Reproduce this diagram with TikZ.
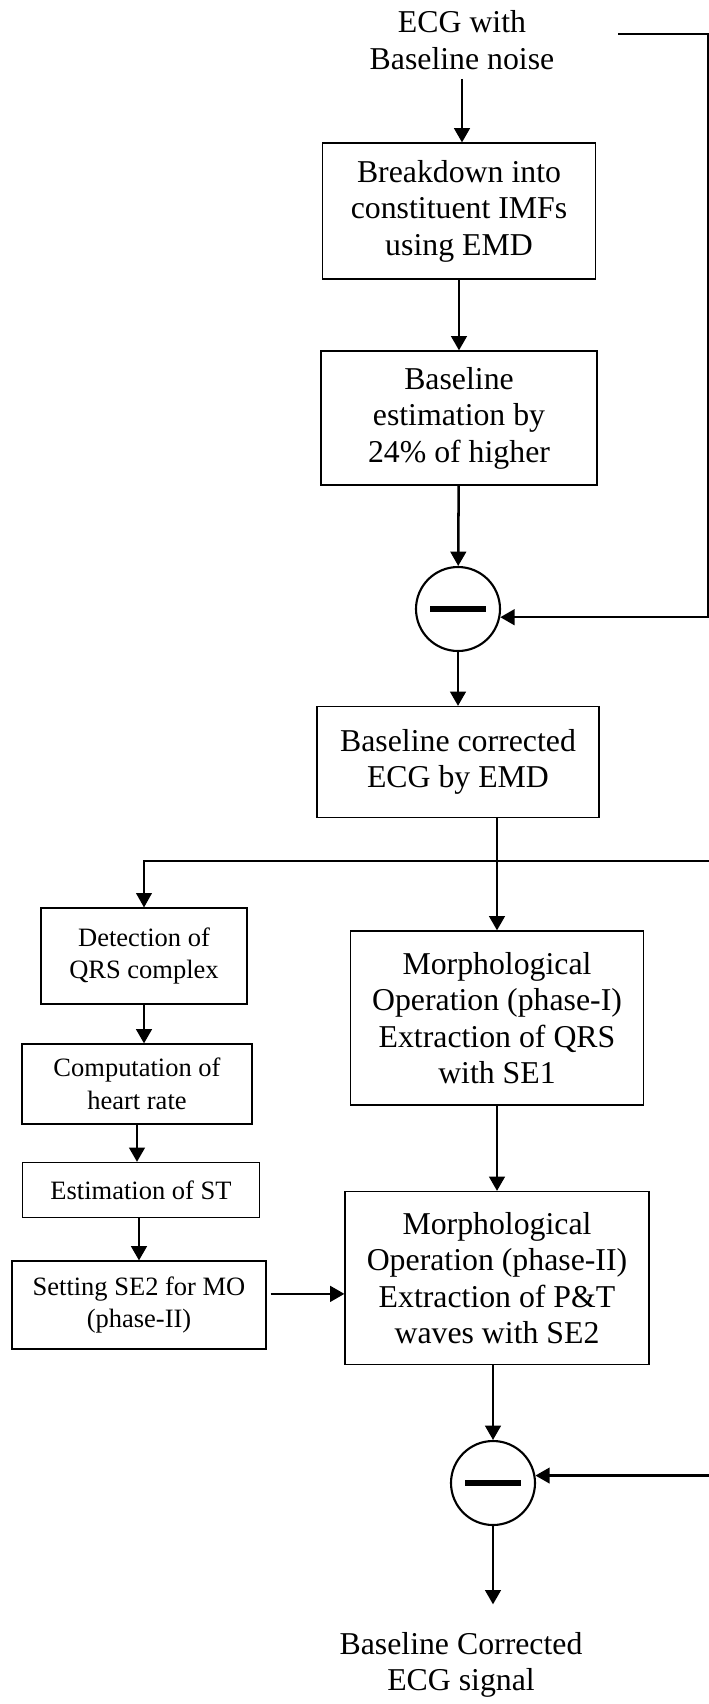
\documentclass[tikz,border=0pt]{standalone}
\usepackage{fontspec}
\setmainfont{Liberation Serif}
\usetikzlibrary{arrows.meta}
\begin{document}
\begin{tikzpicture}[x=0.3774pt,y=-0.3774pt,
			every node/.style={font=\fontsize{12}{13.8}\selectfont},
			io/.style={align=center},
			box/.style={draw,line width=0.45pt,align=center,inner sep=0pt},
			smallbox/.style={box,font=\fontsize{10}{12.4}\selectfont},
			subtract/.style={draw,circle,line width=0.8pt,minimum size=31.7pt,inner sep=0pt,
				path picture={\draw[line width=2.6pt] ([xshift=-10.4pt]path picture bounding box.center) -- ([xshift=10.4pt]path picture bounding box.center);}},
			arr/.style={line width=0.95pt,-{Triangle[length=5.4pt,width=5.9pt]}},
			branch/.style={line width=0.6pt},
			declare function={
				colMain = 459;
				colMorph = 497;
				colLeft = 140;
				railA = 708;
				railB = 716;
				tapX = 618;
				tapY = 34;
				splitY = 861;
			}
			]
			\useasboundingbox (0,0) rectangle (709,1704);
			\node[io] (in) at (462,40) {ECG with\\Baseline noise};
			\node[box,minimum width=103pt,minimum height=51.3pt] (box1) at (colMain,211) {Breakdown into\\constituent IMFs\\using EMD};
			\node[box,minimum width=104.2pt,minimum height=50.6pt] (box2) at (colMain,418) {Baseline\\estimation by\\24\% of higher};
			\node[subtract] (sub1) at (458,609) {};
			\node[box,minimum width=106.4pt,minimum height=41.9pt] (box3) at (458,762) {Baseline corrected\\ECG by EMD};
			\node[smallbox,minimum width=77.7pt,minimum height=36.2pt] (detect) at (144,956) {Detection of\\QRS complex};
			\node[smallbox,minimum width=86.8pt,minimum height=30.2pt] (comp) at (137,1084) {Computation of\\heart rate};
			\node[smallbox,minimum width=89.4pt,minimum height=20.8pt] (est) at (141,1190) {Estimation of ST};
			\node[smallbox,minimum width=95.9pt,minimum height=33.2pt] (setse) at (139,1305) {Setting SE2 for MO\\(phase-II)};
			\node[box,minimum width=110.6pt,minimum height=65.7pt] (morph1) at (colMorph,1018) {Morphological\\Operation (phase-I)\\Extraction of QRS\\with SE1};
			\node[box,minimum width=114.7pt,minimum height=65.3pt] (morph2) at (colMorph,1278) {Morphological\\Operation (phase-II)\\Extraction of P\&T\\waves with SE2};
			\node[subtract] (sub2) at (493,1483) {};
			\node[io] (out) at (461,1665) {Baseline Corrected\\ECG signal};
			\coordinate (tap) at (tapX,tapY);
			\coordinate (split) at (colMorph,splitY);
			\coordinate (railTop) at (railB,splitY);
			\draw[arr] (in.south) -- (in.south |- box1.north);
			\draw[arr] (box1) -- (box2);
			\draw[arr] (box2) -- (sub1);
			\draw[arr] (sub1) -- (box3);
			\draw[arr] (tap) -- (railA,tapY) |- (sub1.-11);
			\draw[arr] (box3.south -| split) -- (morph1.north);
			\draw[branch] (split) -- (railTop);
			\draw[arr] (railTop) |- (sub2.10);
			\draw[arr,branch] (split) -| (detect.north);
			\draw[arr] (detect.south) -- (detect.south |- comp.north);
			\draw[arr] (comp.south) -- (comp.south |- est.north);
			\draw[arr] (est.south -| setse) -- (setse.north);
			\draw[arr,shorten <=1.5pt] ([yshift=4.2pt]setse.east) -- ([yshift=4.2pt]setse.east -| morph2.west);
			\draw[arr] (morph1) -- (morph2);
			\draw[arr] (morph2.south -| sub2) -- (sub2);
			\draw[arr,shorten >=7pt] (sub2) -- (sub2 |- out.north);
		\end{tikzpicture}
\end{document}
